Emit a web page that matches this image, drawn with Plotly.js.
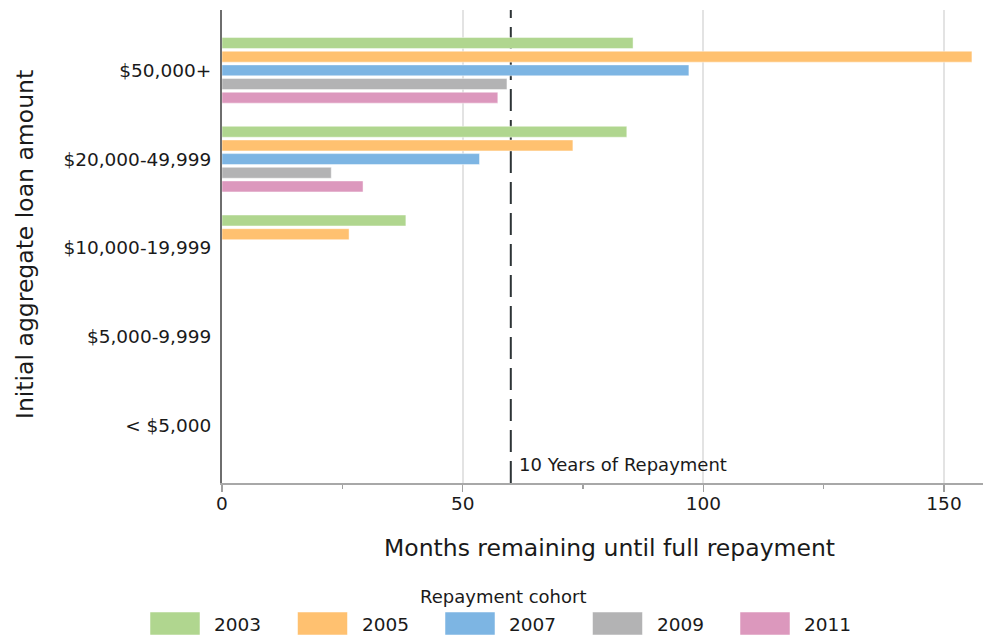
<!DOCTYPE html>
<html>
<head>
<meta charset="utf-8">
<script src="https://cdn.plot.ly/plotly-3.0.1.min.js"></script>
<style>html,body{margin:0;padding:0;background:#fff;}#chart{width:983px;height:637px;}</style>
</head>
<body>
<div id="chart"></div>
<script>
// ---- data ----
var categories = ["< $5,000", "$5,000-9,999", "$10,000-19,999", "$20,000-49,999", "$50,000+"];
var cohorts = ["2003", "2005", "2007", "2009", "2011"];
var colors = ["#b0d68f", "#ffc170", "#7db5e3", "#b3b3b4", "#dc98bd"];
var v2003 = [null, null, 38.2, 84.1, 85.4];
var v2005 = [null, null, 26.4, 72.9, 155.8];
var v2007 = [null, null, null, 53.5, 97.0];
var v2009 = [null, null, null, 22.7, 59.2];
var v2011 = [null, null, null, 29.3, 57.3];
var seriesValues = [v2003, v2005, v2007, v2009, v2011];
var repaymentMonths = 60;
var refLabel = "10 Years of Repayment";
var xTicks = [0, 50, 100, 150];

// ---- layout helpers (pixels -> paper) ----
var W = 983, H = 637, L = 222, R = 0, T = 10, B = 154;
var PW = W - L - R, PH = H - T - B;
function px(x) { return (x - L) / PW; }
function py(y) { return (H - B - y) / PH; }

var FONT = "DejaVu Sans, Verdana, sans-serif";
var TXT = "#1a1a1a";

// traces: reversed so 2003 sits at the top of each group
var traces = [];
for (var i = cohorts.length - 1; i >= 0; i--) {
  traces.push({
    type: "bar",
    orientation: "h",
    name: cohorts[i],
    y: categories,
    x: seriesValues[i],
    marker: { color: colors[i], line: { color: "rgba(255,255,255,0.45)", width: 1 } },
    hoverinfo: "x+name"
  });
}

var shapes = [{
  type: "line", xref: "x", yref: "paper",
  x0: repaymentMonths, x1: repaymentMonths, y0: 0, y1: 1,
  line: { color: "#2d3436", width: 2, dash: "22px,9px" },
  layer: "below"
}];

var annotations = [
  { text: refLabel, xref: "x", yref: "paper", x: repaymentMonths, y: py(464),
    xanchor: "left", yanchor: "middle", xshift: 6, showarrow: false,
    font: { family: FONT, size: 18, color: TXT } },
  { text: "Months remaining until full repayment", xref: "paper", yref: "paper",
    x: px(609), y: py(548), xanchor: "center", yanchor: "middle", showarrow: false,
    font: { family: FONT, size: 23.5, color: TXT } },
  { text: "Initial aggregate loan amount", xref: "paper", yref: "paper",
    x: px(25), y: py(245), xanchor: "center", yanchor: "middle", textangle: -90, showarrow: false,
    font: { family: FONT, size: 23.5, color: TXT } },
  { text: "Repayment cohort", xref: "paper", yref: "paper",
    x: px(503), y: py(596), xanchor: "center", yanchor: "middle", showarrow: false,
    font: { family: FONT, size: 18, color: TXT } }
];

// custom legend (large swatches)
var legX0 = 150, legStep = 147.5, swW = 50, swTop = 612, swBot = 635;
for (var j = 0; j < cohorts.length; j++) {
  var x0 = legX0 + j * legStep;
  shapes.push({
    type: "rect", xref: "paper", yref: "paper",
    x0: px(x0), x1: px(x0 + swW), y0: py(swBot), y1: py(swTop),
    fillcolor: colors[j], line: { color: "rgba(255,255,255,0.5)", width: 1 }
  });
  annotations.push({
    text: cohorts[j], xref: "paper", yref: "paper",
    x: px(x0 + swW + 12), y: py(624), xanchor: "left", yanchor: "middle", showarrow: false,
    font: { family: FONT, size: 18.5, color: TXT }
  });
}

var layout = {
  width: W, height: H, autosize: false,
  margin: { l: L, r: R, t: T, b: B, pad: 0 },
  paper_bgcolor: "#ffffff", plot_bgcolor: "#ffffff",
  font: { family: FONT, color: TXT, size: 18.5 },
  barmode: "group", bargap: 0.23, bargroupgap: 0.2,
  showlegend: false,
  xaxis: {
    range: [0, 158.1], tickvals: xTicks, ticktext: xTicks.map(String),
    showgrid: true, gridcolor: "#e3e3e3", gridwidth: 2,
    zeroline: false, showline: true, linecolor: "#a8a8a8", linewidth: 1.5,
    ticks: "outside", ticklen: 7, tickwidth: 1.5, tickcolor: "#a0a0a0",
    minor: { dtick: 25, tick0: 0, ticks: "outside", ticklen: 4, tickwidth: 1.5, tickcolor: "#a0a0a0", showgrid: false },
    ticklabelstandoff: -4,
    tickfont: { family: FONT, size: 18.5, color: TXT },
    fixedrange: true
  },
  yaxis: {
    type: "category", categoryorder: "array", categoryarray: categories,
    range: [-0.65, 4.68],
    showgrid: false, zeroline: false, showline: true, linecolor: "#6e6e6e", linewidth: 2,
    ticks: "", ticklabelstandoff: 5,
    tickfont: { family: FONT, size: 18.5, color: TXT },
    fixedrange: true
  },
  shapes: shapes,
  annotations: annotations
};

Plotly.newPlot("chart", traces, layout, { displayModeBar: false, staticPlot: true });
</script>
</body>
</html>
